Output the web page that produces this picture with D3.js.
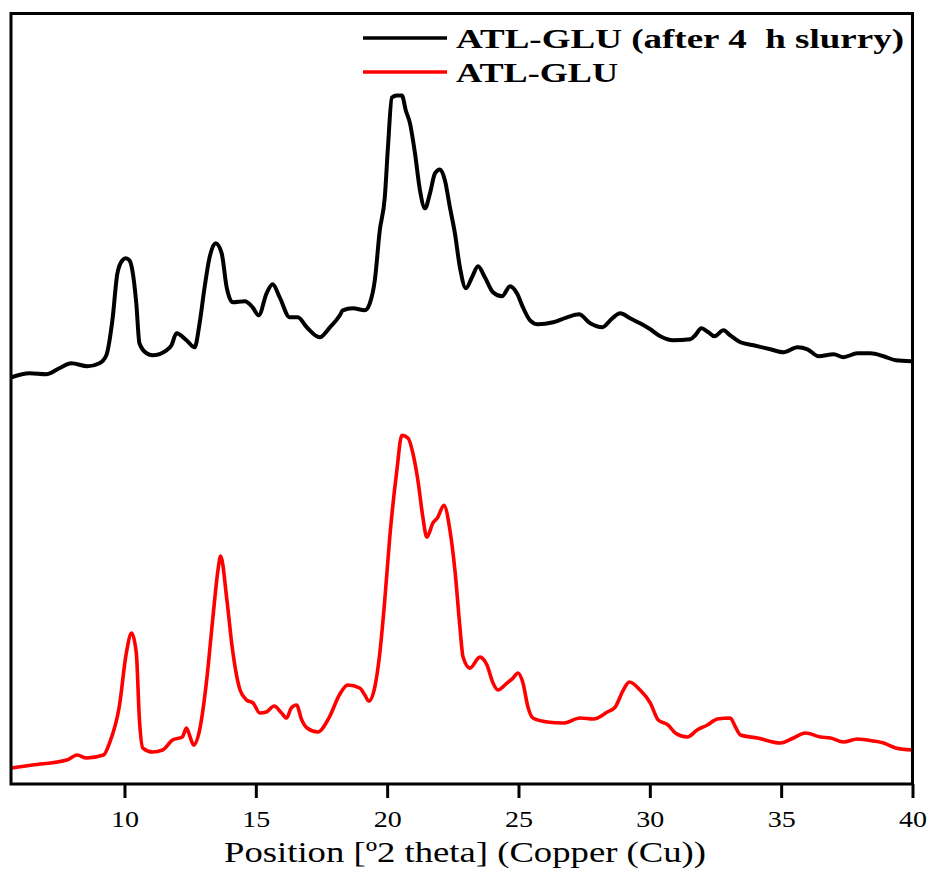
<!DOCTYPE html>
<html>
<head>
<meta charset="utf-8">
<script src="https://cdn.jsdelivr.net/npm/d3@7/dist/d3.min.js"></script>
<style>
  html, body { margin: 0; padding: 0; background: #fff; }
  svg { display: block; }
</style>
</head>
<body>
<svg id="chart" width="934" height="873"></svg>
<script>
// ---------- data ----------
const xTicks = [10, 15, 20, 25, 30, 35, 40];
const xTitle = "Position [\u00BA2 theta] (Copper (Cu))";
const seriesNames = ["ATL-GLU (after 4  h slurry)", "ATL-GLU"];
const seriesColors = ["#000000", "#ff0000"];

// [2theta, intensity (a.u., stacked)]
const slurryData = [
  [5.7,407],[6.38,411],[7.02,410],[7.52,416],[7.98,421],[8.59,418],[9.05,421],[9.31,429],
  [9.54,464],[9.73,511],[9.92,524],[10.05,526],[10.19,524],[10.3,514],[10.45,481],[10.57,441],
  [10.84,431],[11.07,429],[11.6,434],[11.79,439],[11.98,451],[12.36,444],[12.67,437],[12.86,461],
  [13.05,497],[13.24,527],[13.47,541],[13.7,531],[13.89,497],[14.12,482],[14.58,483],[14.88,477],
  [15.11,469],[15.41,491],[15.64,500],[15.91,487],[16.29,467],[16.6,467],[16.94,457],[17.43,447],
  [17.82,457],[18.2,469],[18.31,474],[18.69,476],[19.15,474],[19.34,481],[19.53,504],[19.72,554],
  [19.91,587],[20.03,637],[20.18,687],[20.37,689],[20.56,689],[20.71,674],[20.87,661],[21.06,631],
  [21.25,594],[21.44,576],[21.63,591],[21.82,611],[22.01,615],[22.2,604],[22.39,577],[22.58,551],
  [22.77,517],[23.0,496],[23.23,507],[23.46,518],[23.72,507],[24.03,492],[24.37,488],[24.68,498],
  [24.94,491],[25.17,477],[25.44,464],[25.74,460],[26.32,462],[26.85,467],[27.3,470],
  [27.73,461],[28.19,457],[28.57,466],[28.87,471],[29.25,466],[29.63,461],[30.02,455],[30.4,448],
  [30.89,444],[31.54,445],[31.73,449],[31.96,456],[32.23,452],[32.46,448],[32.8,454],[33.06,449],
  [33.45,442],[33.95,439],[34.59,435],[35.09,432],[35.62,437],[36.0,435],[36.42,428],[37.0,430],
  [37.37,427],[37.9,431],[38.4,431],[38.9,428],[39.36,424],[39.95,423]
];

const atlGluData = [
  [5.7,16],[6.5,19],[7.8,24],[8.2,29],[8.55,26],[9.2,29],[9.43,41],[9.8,77],[10.07,131],
  [10.27,151],[10.45,131],[10.57,64],[10.7,36],[11.07,32],[11.45,34],[11.83,44],[12.2,47],
  [12.36,56],[12.5,47],[12.63,39],[12.86,54],[13.13,104],[13.36,165],[13.55,212],[13.66,228],
  [13.9,184],[14.1,137],[14.4,94],[14.65,84],[14.9,81],[15.15,71],[15.4,72],[15.7,78],[15.98,71],
  [16.17,66],[16.35,76],[16.55,79],[16.75,64],[16.95,56],[17.36,52],[17.8,67],[18.2,90],[18.5,99],
  [18.96,96],[19.15,89],[19.3,83],[19.53,97],[19.72,131],[19.9,181],[20.1,247],[20.37,314],
  [20.56,349],[20.8,346],[20.98,331],[21.17,304],[21.36,267],[21.51,247],[21.74,261],[21.93,267],
  [22.16,279],[22.39,254],[22.58,214],[22.77,157],[22.89,127],[23.15,116],[23.53,127],[23.8,119],
  [24.03,101],[24.22,94],[24.56,101],[24.79,106],[24.98,111],[25.17,101],[25.36,77],[25.55,66],
  [26.1,62],[26.7,61],[27.35,66],[27.85,65],[28.38,72],[28.68,77],[28.99,94],[29.22,102],
  [29.63,94],[30.02,81],[30.32,64],[30.7,59],[30.97,51],[31.43,47],[31.8,54],[32.19,59],
  [32.57,65],[33.06,66],[33.26,57],[33.45,49],[34.1,46],[34.97,41],[35.47,46],[35.92,51],
  [36.5,47],[36.88,46],[37.37,42],[37.9,45],[38.52,43],[38.9,41],[39.36,36],[40,34]
];

// ---------- layout ----------
const m = { left: 11, right: 912.5, top: 13.5, bottom: 784 };
const serif = "'Liberation Serif', 'Times New Roman', Times, serif";

const svg = d3.select("#chart");

const x = d3.scaleLinear().domain([5.68, 40]).range([m.left, m.right]);
const y = d3.scaleLinear().domain([0, 771]).range([m.bottom, m.top]);

// lines
const line = d3.line()
  .x(d => x(d[0])).y(d => y(d[1]))
  .curve(d3.curveMonotoneX);

svg.append("clipPath").attr("id", "clip")
  .append("rect").attr("x", m.left).attr("y", m.top)
  .attr("width", m.right - m.left).attr("height", m.bottom - m.top);

const plot = svg.append("g").attr("clip-path", "url(#clip)");

plot.append("path").datum(slurryData)
  .attr("d", line).attr("fill", "none")
  .attr("stroke", seriesColors[0]).attr("stroke-width", 4)
  .attr("stroke-linejoin", "round");

plot.append("path").datum(atlGluData)
  .attr("d", line).attr("fill", "none")
  .attr("stroke", seriesColors[1]).attr("stroke-width", 3.6)
  .attr("stroke-linejoin", "round");

// frame
svg.append("rect")
  .attr("x", m.left).attr("y", m.top)
  .attr("width", m.right - m.left).attr("height", m.bottom - m.top)
  .attr("fill", "none").attr("stroke", "#000").attr("stroke-width", 3);

// x axis
const xAxis = d3.axisBottom(x).tickValues(xTicks).tickSize(14).tickSizeOuter(0).tickPadding(13);
const gx = svg.append("g").attr("transform", `translate(0,${m.bottom})`).call(xAxis);
gx.select(".domain").remove();
gx.selectAll(".tick line").attr("stroke", "#000").attr("stroke-width", 3);
gx.selectAll(".tick text")
  .attr("font-family", serif)
  .attr("font-size", 23).attr("fill", "#000")
  .attr("textLength", 28).attr("lengthAdjust", "spacingAndGlyphs");

// x title
svg.append("text")
  .attr("x", 465).attr("y", 862)
  .attr("text-anchor", "middle")
  .attr("font-family", serif)
  .attr("font-size", 30).attr("fill", "#000")
  .attr("textLength", 482).attr("lengthAdjust", "spacingAndGlyphs")
  .text(xTitle);

// legend
const legendY = [38, 72];
const legendLen = [448, 162];
seriesNames.forEach((name, i) => {
  svg.append("line")
    .attr("x1", 363).attr("x2", 447)
    .attr("y1", legendY[i]).attr("y2", legendY[i])
    .attr("stroke", seriesColors[i]).attr("stroke-width", 3.4);
  svg.append("text")
    .attr("x", 456).attr("y", legendY[i] + 10)
    .attr("font-family", serif)
    .attr("font-size", 28).attr("font-weight", "bold").attr("fill", "#000")
    .attr("textLength", legendLen[i]).attr("lengthAdjust", "spacingAndGlyphs")
    .style("white-space", "pre")
    .text(name);
});
</script>
</body>
</html>
